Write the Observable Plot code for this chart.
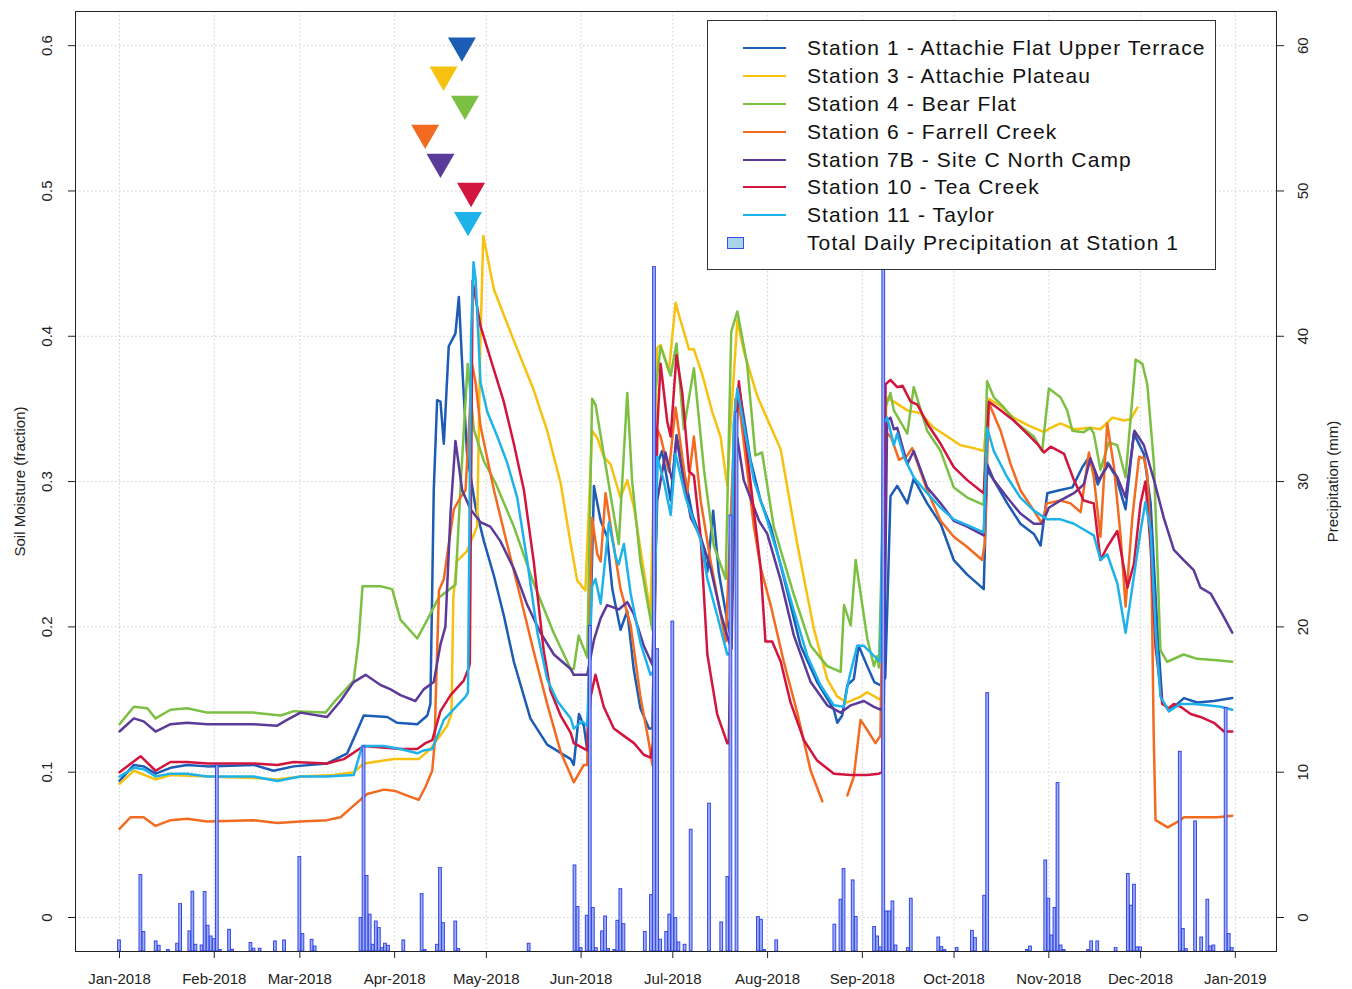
<!DOCTYPE html>
<html><head><meta charset="utf-8">
<script src="https://cdn.jsdelivr.net/npm/d3@7"></script>
<script src="https://cdn.jsdelivr.net/npm/@observablehq/plot@0.6"></script>
<style>
body{margin:0;background:#fff;font-family:"Liberation Sans",Arial,sans-serif;}
#wrap{position:relative;width:1352px;height:989px;}
#legend{position:absolute;left:707px;top:20px;width:507px;height:248px;border:1px solid #333;background:#fff;}
.row{position:absolute;left:0;height:28px;width:100%;}
.sw{position:absolute;left:35px;top:13px;width:43px;height:2px;}
.sq{position:absolute;left:19px;top:8px;width:15px;height:10px;border:1px solid #3b4be8;background:#a9d3e6;}
.lab{position:absolute;left:99px;top:1px;font-size:21px;letter-spacing:1.1px;line-height:26px;color:#111;white-space:nowrap;}
</style></head>
<body><div id="wrap"></div>
<script>
// ---------- data ----------
const stationNames = ["Station 1 - Attachie Flat Upper Terrace","Station 3 - Attachie Plateau","Station 4 - Bear Flat","Station 6 - Farrell Creek","Station 7B - Site C North Camp","Station 10 - Tea Creek","Station 11 - Taylor"];
const stationColors = ["#1c5cb5","#f7c10f","#7bc043","#f36b21","#5b3a99","#d1153e","#1db3ea"];
const precipName = "Total Daily Precipitation at Station 1";

// [day of 2018 (0 = 1 Jan), soil moisture fraction]
const s1 = [[0,.094],[4.7,.105],[7.9,.104],[11.8,.099],[16.7,.103],[22.1,.105],[28.7,.104],[43.9,.105],[50.4,.101],[57,.104],[67.9,.106],[74.5,.113],[77.2,.126],[79.9,.139],[87.6,.138],[90.8,.134],[97.4,.133],[100.7,.139],[101.7,.147],[102.8,.294],[103.9,.356],[105,.355],[106.1,.326],[107.7,.393],[109.9,.402],[111,.427],[112.4,.368],[113.7,.319],[116.5,.282],[119.2,.259],[122.5,.235],[125.7,.208],[129,.176],[134.4,.137],[139.9,.119],[147.6,.109],[148.6,.105],[150.3,.140],[151.9,.132],[153,.115],[155.2,.297],[157.4,.273],[159.5,.262],[161.2,.226],[163.3,.204],[163.9,.198],[166.1,.211],[168.2,.171],[170.4,.144],[173.2,.130],[174.3,.130],[175.9,.312],[177.5,.321],[180.3,.287],[182.2,.332],[184.6,.307],[187.4,.277],[190,.262],[192.3,.238],[194.2,.280],[196,.238],[198.8,.204],[199.9,.194],[201,.331],[202.6,.366],[206.4,.315],[209.7,.287],[213,.269],[217.3,.234],[222.8,.187],[228.2,.162],[233.7,.143],[234.8,.134],[236.4,.139],[238.1,.160],[240.2,.164],[241.8,.187],[244.6,.173],[246.9,.162],[248.9,.160],[250.5,.165],[252.2,.290],[254.4,.297],[257.7,.285],[259.8,.302],[264.2,.285],[268.6,.271],[272.9,.246],[277.3,.236],[282.7,.226],[283.8,.308],[286,.301],[290.4,.285],[294.7,.271],[299.1,.264],[301.3,.256],[303.5,.292],[307.4,.294],[311.7,.296],[315,.310],[317.2,.317],[320,.298],[323.2,.313],[326,.303],[329.1,.281],[331.8,.333],[335.1,.319],[337.3,.285],[339.5,.198],[341.1,.149],[343.3,.142],[348.2,.151],[352.5,.148],[358,.149],[364,.151]];
const s3 = [[0,.092],[4.7,.101],[11.8,.095],[16.7,.098],[28.7,.097],[43.9,.096],[51.6,.095],[59.2,.097],[70.1,.098],[76.6,.100],[79.9,.106],[89.8,.109],[97.9,.109],[101.7,.116],[107.2,.132],[108.6,.140],[109.2,.220],[110.3,.245],[113.6,.252],[117,.269],[118,.392],[119,.469],[122.5,.432],[129,.397],[135.5,.363],[139.9,.335],[144.3,.299],[147.6,.257],[149.7,.232],[152.4,.225],[154.6,.335],[156.3,.330],[158.4,.317],[160.6,.312],[163.9,.289],[166.1,.301],[168.3,.282],[173.7,.209],[175.9,.392],[177,.394],[179.7,.376],[181.9,.423],[183.5,.411],[186.3,.391],[187.9,.391],[190.6,.374],[193.9,.348],[196.6,.331],[198.8,.297],[199.9,.339],[202.1,.411],[204.2,.390],[208.6,.359],[211.9,.343],[216.3,.322],[221.7,.257],[227.1,.199],[231.5,.164],[234.8,.152],[238,.148],[242.4,.152],[244.6,.155],[247.9,.151],[248.9,.150],[249.8,.155],[250.8,.358],[253.3,.355],[257.7,.349],[262,.347],[266.4,.337],[270.8,.331],[275.1,.325],[279.5,.323],[282.7,.321],[284.4,.357],[288.2,.352],[292.5,.344],[296.9,.339],[302.4,.334],[304.6,.337],[307.8,.340],[312.2,.336],[317.6,.337],[320.9,.336],[324.8,.344],[328.7,.342],[330.8,.343],[333,.351]];
const s4 = [[0,.133],[4.7,.145],[9.1,.144],[11.8,.137],[16.7,.143],[22.1,.144],[28.7,.141],[43.9,.141],[52.7,.139],[57,.142],[67.4,.141],[70.1,.148],[76.6,.163],[78.2,.190],[79.5,.228],[85.4,.228],[89.2,.226],[91.9,.205],[97.4,.192],[100.7,.205],[104.4,.220],[109.9,.229],[111.5,.294],[113.9,.381],[115.9,.336],[119.2,.314],[123,.299],[129,.269],[135.5,.230],[142,.196],[147.6,.171],[148.6,.171],[150.2,.194],[153,.179],[154.6,.357],[155.7,.353],[158.4,.319],[163.3,.257],[166.1,.361],[167.7,.300],[170.4,.245],[174.3,.198],[175.3,.363],[177,.393],[180.3,.373],[182.2,.395],[184.6,.336],[187.9,.378],[191.2,.308],[194.4,.256],[198.3,.233],[200.1,.403],[202.1,.417],[205.3,.381],[208,.318],[210.2,.320],[214,.269],[220.6,.222],[226.1,.187],[231.5,.173],[235.9,.169],[237,.215],[239.2,.201],[240.8,.246],[244.6,.192],[246.8,.173],[247.9,.180],[248.4,.172],[250.6,.351],[252.2,.361],[253.3,.349],[257.7,.333],[259.8,.365],[264.2,.335],[268.6,.321],[272.9,.296],[277.3,.289],[282.7,.284],[283.8,.369],[286,.358],[289.3,.351],[293.6,.340],[299.1,.331],[301.8,.321],[304,.364],[307.8,.358],[310,.349],[311.7,.335],[315.4,.334],[317.6,.337],[318.7,.333],[320.9,.308],[323.6,.327],[326.4,.325],[329.1,.303],[332.4,.384],[334.6,.381],[336.2,.367],[338.4,.312],[340.5,.184],[342.7,.176],[348.1,.181],[352.5,.178],[359,.177],[364,.176]];
const s6 = [[0,.061],[3.6,.069],[7.9,.069],[11.8,.063],[16.7,.067],[22.1,.068],[28.7,.066],[43.9,.067],[51.6,.065],[59.2,.066],[67.9,.067],[72.3,.069],[76.6,.077],[81,.085],[86.5,.088],[90.3,.087],[95.2,.083],[97.9,.081],[100.1,.090],[102.3,.101],[103.1,.120],[103.4,.147],[104.5,.225],[106.1,.233],[107.7,.257],[109.4,.281],[111.5,.289],[113.2,.294],[115.4,.380],[116.5,.368],[118.1,.338],[122.5,.294],[126.8,.257],[131.2,.220],[135.5,.183],[139.9,.147],[144.3,.114],[148.6,.093],[151.9,.105],[153,.105],[154.6,.275],[156.3,.250],[157.4,.245],[159,.292],[161.2,.262],[163.9,.226],[167.2,.201],[170.4,.152],[173.2,.120],[174.3,.105],[175.9,.336],[177,.331],[179.7,.307],[181.9,.351],[184.1,.317],[185.7,.292],[187.9,.331],[190.1,.287],[193.3,.246],[198.3,.190],[201.5,.357],[202.6,.355],[205.3,.308],[207.5,.269],[209.7,.241],[213,.215],[217.3,.176],[221.7,.141],[226.1,.101],[229.9,.080],[234,null],[238.1,.084],[240.2,.097],[242.4,.136],[244.6,.129],[247.3,.120],[248.9,.125],[250.4,.335],[252.5,.330],[255,.315],[257.7,.318],[259.3,.323],[264.2,.294],[268.6,.273],[272.9,.262],[277.3,.255],[282.2,.246],[283,.257],[284.4,.354],[288.2,.335],[291.5,.312],[294.7,.294],[299.1,.280],[301.8,.271],[303.3,.285],[307.8,.287],[311.1,.285],[314.4,.279],[317.1,.320],[318.7,.303],[320.9,.262],[323.1,.340],[325.3,.310],[327.5,.262],[329.1,.214],[331.3,.275],[333.5,.317],[335.1,.316],[336.2,.305],[337.5,.250],[338.3,.126],[338.9,.067],[342.9,.062],[346.2,.066],[348.2,.069],[353.7,.069],[359.1,.069],[364,.070]];
const s7b = [[0,.128],[4.7,.137],[7.9,.135],[11.8,.128],[16.7,.133],[22.1,.134],[28.7,.133],[43.9,.133],[51.6,.132],[54.8,.136],[59.2,.141],[67.9,.138],[72.3,.149],[76.6,.162],[80.5,.167],[85.4,.160],[88.7,.157],[91.9,.153],[96.8,.149],[99.5,.157],[102.8,.162],[105,.188],[106.6,.200],[108.3,.279],[109.9,.328],[112.1,.294],[114.8,.281],[118.1,.272],[121.3,.269],[124.6,.259],[129,.240],[133.4,.215],[137.7,.196],[142.1,.181],[147.6,.171],[148.6,.167],[153,.167],[155.2,.191],[157.4,.206],[159.5,.215],[163.3,.212],[166.1,.217],[168.2,.209],[171.5,.187],[174.3,.174],[175.9,.287],[178.6,.320],[180.9,.300],[182.2,.330],[184.6,.300],[186.9,.275],[190.1,.262],[193.4,.240],[196.6,.210],[199.3,.190],[200.2,.185],[201.5,.320],[202.1,.330],[204.2,.301],[209.2,.273],[211.9,.264],[216.3,.232],[220.6,.194],[226.1,.162],[231.5,.146],[235.9,.141],[239.2,.146],[243.5,.149],[246.8,.145],[248.9,.143],[250,.145],[251.1,.342],[252.2,.344],[253.3,.336],[254.4,.337],[257.7,.312],[259.8,.321],[264.2,.296],[268.6,.285],[272.9,.273],[277.3,.269],[282.7,.263],[283.8,.312],[286,.301],[290.4,.289],[294.7,.278],[299.1,.271],[301.8,.271],[304,.282],[307.8,.287],[312.2,.292],[315.4,.298],[317.6,.316],[320.3,.301],[323.6,.312],[326.4,.303],[329.1,.289],[332,.335],[335.1,.325],[338.4,.301],[341.6,.275],[344.9,.253],[348.1,.246],[351.4,.239],[353.6,.227],[356.9,.223],[360.7,.209],[364,.196]];
const s10 = [[0,.100],[6.9,.111],[11.8,.101],[16.7,.107],[22.1,.107],[28.7,.106],[43.9,.106],[51.6,.105],[57,.107],[67.9,.106],[73.4,.109],[79.9,.118],[91.9,.116],[97.4,.116],[100.1,.120],[102.3,.122],[105,.142],[108.3,.153],[112.6,.163],[114.3,.172],[114.6,.175],[115.5,.438],[118.1,.407],[121.3,.385],[125.7,.355],[129,.326],[132.3,.294],[135.5,.245],[138.8,.183],[141,.156],[144.3,.139],[147.6,.127],[148.6,.120],[153,.115],[154.1,.152],[155.7,.167],[158.4,.145],[161.7,.130],[165,.125],[168.3,.120],[171.5,.112],[173.7,.110],[174.6,.120],[175.9,.336],[177,.381],[179.2,.341],[180.3,.331],[182.2,.387],[184.1,.361],[186.3,.307],[187.9,.304],[190.1,.262],[192.3,.181],[195.5,.140],[198.8,.120],[199.3,.120],[200.9,.292],[202.6,.369],[204.2,.339],[207.5,.280],[209.7,.241],[211.3,.190],[213.5,.190],[216.3,.176],[219.5,.148],[223.9,.122],[228.2,.108],[233.7,.099],[239.2,.098],[244.6,.098],[248.4,.099],[249.5,.100],[250.6,.367],[252.2,.370],[254.4,.365],[256.1,.366],[258.8,.355],[261,.353],[264.2,.340],[268.6,.326],[272.9,.310],[277.3,.301],[282.7,.292],[284.4,.355],[288.2,.349],[292.5,.342],[296.9,.333],[300.2,.326],[302.4,.320],[304.6,.324],[309,.319],[312.2,.301],[315.4,.287],[318.7,.285],[320.9,.246],[323.1,.255],[326.4,.266],[329.7,.227],[331.8,.243],[334,.285],[335.6,.300],[337.3,.255],[338.9,.186],[341.1,.147],[343.3,.144],[344.9,.147],[347.1,.145],[350.4,.140],[353.6,.138],[358,.134],[361.3,.128],[364,.128]];
const s11 = [[0,.097],[4.7,.103],[7.9,.102],[11.8,.097],[16.7,.099],[22.1,.099],[28.7,.097],[43.9,.097],[51.6,.094],[59.2,.097],[67.9,.097],[76.6,.098],[79.4,.118],[86.4,.118],[91.9,.116],[97.4,.113],[99.5,.115],[102.3,.116],[106.1,.136],[113.2,.152],[114,.155],[115,.400],[115.8,.451],[116.5,.439],[118.1,.368],[120.3,.348],[123.6,.331],[126.8,.313],[130.1,.289],[133.4,.245],[136.7,.196],[139.9,.164],[143.2,.149],[147.6,.137],[148.6,.130],[151.4,.135],[153,.132],[154.6,.228],[155.7,.233],[157.4,.216],[160.1,.272],[162.3,.248],[163.3,.243],[165,.257],[167.2,.223],[170.4,.189],[173.7,.167],[174.8,.170],[175.9,.317],[178.1,.300],[180.3,.277],[181.9,.319],[185.2,.289],[187.9,.272],[190.1,.260],[192.3,.233],[195.5,.208],[198.8,.181],[199.9,.182],[200.9,.339],[202.1,.364],[204.2,.339],[207.5,.301],[211.9,.273],[216.3,.243],[220.6,.211],[225,.180],[229.3,.160],[233.7,.146],[236.9,.145],[238.6,.164],[241.3,.187],[243.5,.187],[246.8,.180],[248.9,.176],[249.9,.340],[251.1,.344],[252.2,.335],[253.3,.325],[254.4,.333],[256.6,.317],[259.8,.303],[264.2,.292],[268.6,.282],[272.9,.274],[277.3,.270],[282.7,.265],[283.8,.337],[286,.321],[290.4,.303],[294.7,.289],[299.1,.280],[303.5,.274],[307.8,.274],[312.2,.271],[315.4,.267],[318.7,.263],[320.9,.246],[323.1,.250],[326.4,.230],[329.1,.196],[330.8,.220],[334,.266],[335.6,.286],[337.3,.266],[338.9,.198],[340.5,.152],[343.3,.142],[347.1,.147],[351.4,.147],[355.8,.146],[360.2,.145],[364,.143]];
const stationSeries = [s1, s3, s4, s6, s7b, s10, s11];

// snowmelt markers: day of 2018 and marker level (fraction)
const markerDays = [112, 106, 113, 100, 105, 115, 114];
const markerLevels = [0.60, 0.58, 0.56, 0.54, 0.52, 0.50, 0.48];

// [day of 2018, daily precipitation (mm, bar length above the plot floor)]
const precip = [[0,0.76],[7,5.26],[8,1.34],[12,0.69],[13,0.39],[16,0.1],[19,0.53],[20,3.26],[23,1.38],[24,4.11],[25,0.46],[27,0.41],[28,4.09],[29,1.77],[30,1.03],[31,0.85],[32,12.8],[33,0.1],[36,1.49],[37,0.12],[43,0.58],[44,0.19],[46,0.19],[51,0.69],[54,0.76],[59,6.5],[60,1.2],[63,0.8],[64,0.34],[79,2.3],[80,14.1],[81,5.2],[82,2.53],[83,0.46],[84,2.06],[85,1.61],[86,0.23],[87,0.53],[88,0.39],[93,0.76],[99,3.95],[100,0.1],[104,0.46],[105,5.74],[106,1.95],[110,2.06],[111,0.17],[134,0.53],[149,5.92],[150,3.06],[151,0.23],[153,2.46],[154,22.4],[155,2.99],[156,0.23],[158,1.38],[159,2.41],[160,0.17],[162,0.1],[163,2.11],[164,4.29],[165,1.88],[172,1.34],[174,3.88],[175,47.1],[176,20.8],[177,0.81],[179,1.34],[180,2.53],[181,22.7],[182,2.3],[183,0.62],[185,0.46],[187,8.38],[193,10.17],[197,2.0],[199,5.12],[200,30],[202,37.1],[209,2.37],[210,2.18],[211,0.1],[215,0.76],[234,1.84],[236,3.56],[237,5.67],[240,4.89],[241,2.37],[247,1.68],[248,1.03],[249,0.28],[250,47.2],[251,2.75],[252,2.75],[253,3.44],[254,0.41],[258,0.23],[259,3.63],[268,0.96],[269,0.3],[270,0.1],[274,0.23],[279,1.42],[280,0.92],[283,3.83],[284,17.78],[297,0.1],[298,0.34],[303,6.26],[304,3.63],[305,1.1],[306,2.99],[307,11.59],[308,0.41],[309,0.1],[317,0.1],[318,0.69],[320,0.69],[326,0.23],[330,5.33],[331,3.15],[332,4.59],[333,0.28],[334,0.28],[347,13.74],[348,1.54],[349,0.16],[352,8.95],[354,0.96],[356,3.56],[357,0.34],[358,0.41],[362,16.75],[363,1.2],[364,0.23]];

const yTicks = [0, 0.1, 0.2, 0.3, 0.4, 0.5, 0.6];
const precipTicks = [0, 10, 20, 30, 40, 50, 60];

// ---------- chart ----------
const t0 = Date.UTC(2018, 0, 1);
const toDate = d => new Date(t0 + d * 864e5);
const yMin = -0.0234, yMax = 0.6235;
const xDomain = [toDate(-14.39), toDate(378.47)];
const monthTicks = d3.utcMonth.range(new Date(t0), new Date(Date.UTC(2019, 0, 2)));
const grid = {stroke: "#cfcfcf", strokeDasharray: "1.5,2.5", strokeWidth: 1};

const marks = [
  Plot.ruleX(monthTicks, grid),
  Plot.ruleY(yTicks, grid),
  ...stationSeries.map((s, i) => Plot.line(s, {x: d => toDate(d[0]), y: d => d[1], stroke: stationColors[i], strokeWidth: 2.5, strokeLinejoin: "round"})),
  Plot.rect(precip, {x1: d => toDate(d[0] - 0.45), x2: d => toDate(d[0] + 0.45), y1: () => yMin, y2: d => yMin + d[1] / 100, fill: "#9fb0f2", stroke: "#3344e6", strokeWidth: 1}),
  Plot.dot(markerDays.map((d, i) => ({d, v: markerLevels[i], c: stationColors[i]})), {x: o => toDate(o.d), y: o => o.v, symbol: "triangle", rotate: 180, r: 10.4, fill: o => o.c, stroke: "none"}),
  Plot.axisX({ticks: monthTicks, tickFormat: d3.utcFormat("%b-%Y"), tickSize: 7, tickPadding: 15, fontSize: 15, label: null}),
  Plot.axisY({anchor: "left", ticks: yTicks, tickSize: 7, tickFormat: () => "", label: null}),
  Plot.axisY({anchor: "right", ticks: yTicks, tickSize: 7, tickFormat: () => "", label: null}),
  Plot.text(yTicks, {y: d => d, text: d => String(d), frameAnchor: "left", textAnchor: "middle", dx: -28, rotate: -90, fontSize: 15, fill: "#222"}),
  Plot.text(yTicks, {y: d => d, text: (d, i) => String(precipTicks[i]), frameAnchor: "right", textAnchor: "middle", dx: 27, rotate: -90, fontSize: 15, fill: "#222"}),
  Plot.text(["Soil Moisture (fraction)"], {frameAnchor: "left", textAnchor: "middle", dx: -55, rotate: -90, fontSize: 15, fill: "#222"}),
  Plot.text(["Precipitation (mm)"], {frameAnchor: "right", textAnchor: "middle", dx: 57, rotate: -90, fontSize: 15, fill: "#222"}),
  Plot.frame({stroke: "#222", strokeWidth: 1})
];

const chart = Plot.plot({
  width: 1352, height: 989,
  marginLeft: 75, marginRight: 76, marginTop: 11, marginBottom: 38,
  style: {fontFamily: "'Liberation Sans', Arial, sans-serif", background: "#fff", color: "#222"},
  x: {type: "utc", domain: xDomain, axis: null},
  y: {domain: [yMin, yMax], axis: null},
  symbol: {type: "identity"},
  marks
});
const wrap = document.getElementById("wrap");
wrap.appendChild(chart);

// legend inside the plot area
const lg = document.createElement("div");
lg.id = "legend";
const names = [...stationNames, precipName];
names.forEach((n, i) => {
  const row = document.createElement("div");
  row.className = "row";
  row.style.top = (13.3 + i * 27.8) + "px";
  const mark = document.createElement("div");
  if (i < stationNames.length) { mark.className = "sw"; mark.style.background = stationColors[i]; }
  else { mark.className = "sq"; }
  const lab = document.createElement("div");
  lab.className = "lab"; lab.textContent = n;
  row.appendChild(mark); row.appendChild(lab);
  lg.appendChild(row);
});
wrap.appendChild(lg);
</script></body></html>
